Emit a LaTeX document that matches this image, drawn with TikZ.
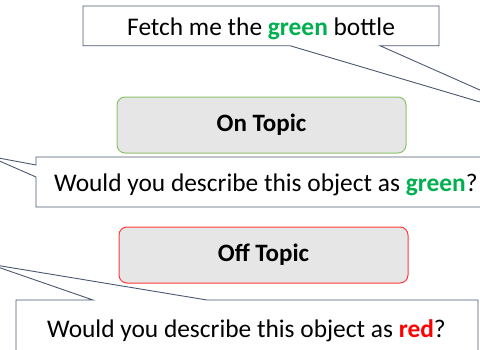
\documentclass[tikz,border=0pt]{standalone}
\usepackage{fontspec}
\setmainfont{Carlito}
\usetikzlibrary{positioning}
\definecolor{calloutline}{HTML}{4A5870}
\definecolor{boxgray}{HTML}{E6E6E6}
\definecolor{ongreen}{HTML}{8FC06C}
\definecolor{offred}{HTML}{FF3B3B}
\definecolor{wordgreen}{HTML}{00B050}
\definecolor{wordred}{HTML}{FF0000}

\begin{document}
\begin{tikzpicture}[
    x=1pt, y=-1pt,
    callout/.style={draw=calloutline, line width=0.9pt, fill=white, line join=miter},
    topic/.style={rectangle, fill=boxgray, rounded corners=8pt, line width=1pt, minimum width=289pt, minimum height=56pt, font=\fontsize{25}{29}\selectfont\bfseries},
    say/.style={inner sep=0pt, anchor=base west, font=\fontsize{25.4}{30}\selectfont}
]
    \useasboundingbox (0,0) rectangle (480,349);
    \begin{scope}
    \clip (0,0) rectangle (480,349);

    % tips of the callouts lie outside the frame
    \coordinate (fetchtip) at (561,126);
    \coordinate (greentip) at (-12,156);
    \coordinate (redtip) at (-11,264);

    % speech bubbles
    \draw [callout] (83,6) -- (439,6) -- (439,45.7) -- (380,45.7) -- (fetchtip) -- (290,45.7) -- (83,45.7) -- cycle;
    \draw [callout] (36,157) -- (500,157) -- (500,207) -- (36,207) -- (36,177) -- (greentip) -- (36,165) -- cycle;
    \draw [callout] (16,300) -- (93,300) -- (redtip) -- (207,300) -- (478,300) -- (478,380) -- (16,380) -- cycle;

    \node [say] (fetch) at (127,35) {Fetch me the \textbf{\color{wordgreen}green} bottle};
    \node [say] (askgreen) at (54,191) {Would you describe this object as \textbf{\color{wordgreen}green}?};
    \node [say] (askred) at (47,337) {Would you describe this object as \textbf{\color{wordred}red}?};

    % topic labels
    \node [topic, draw=ongreen] (ontopic) at (261.5,125) {On Topic};
    \node [topic, draw=offred] (offtopic) at (263.5,255) {Off Topic};
    \end{scope}
\end{tikzpicture}
\end{document}
